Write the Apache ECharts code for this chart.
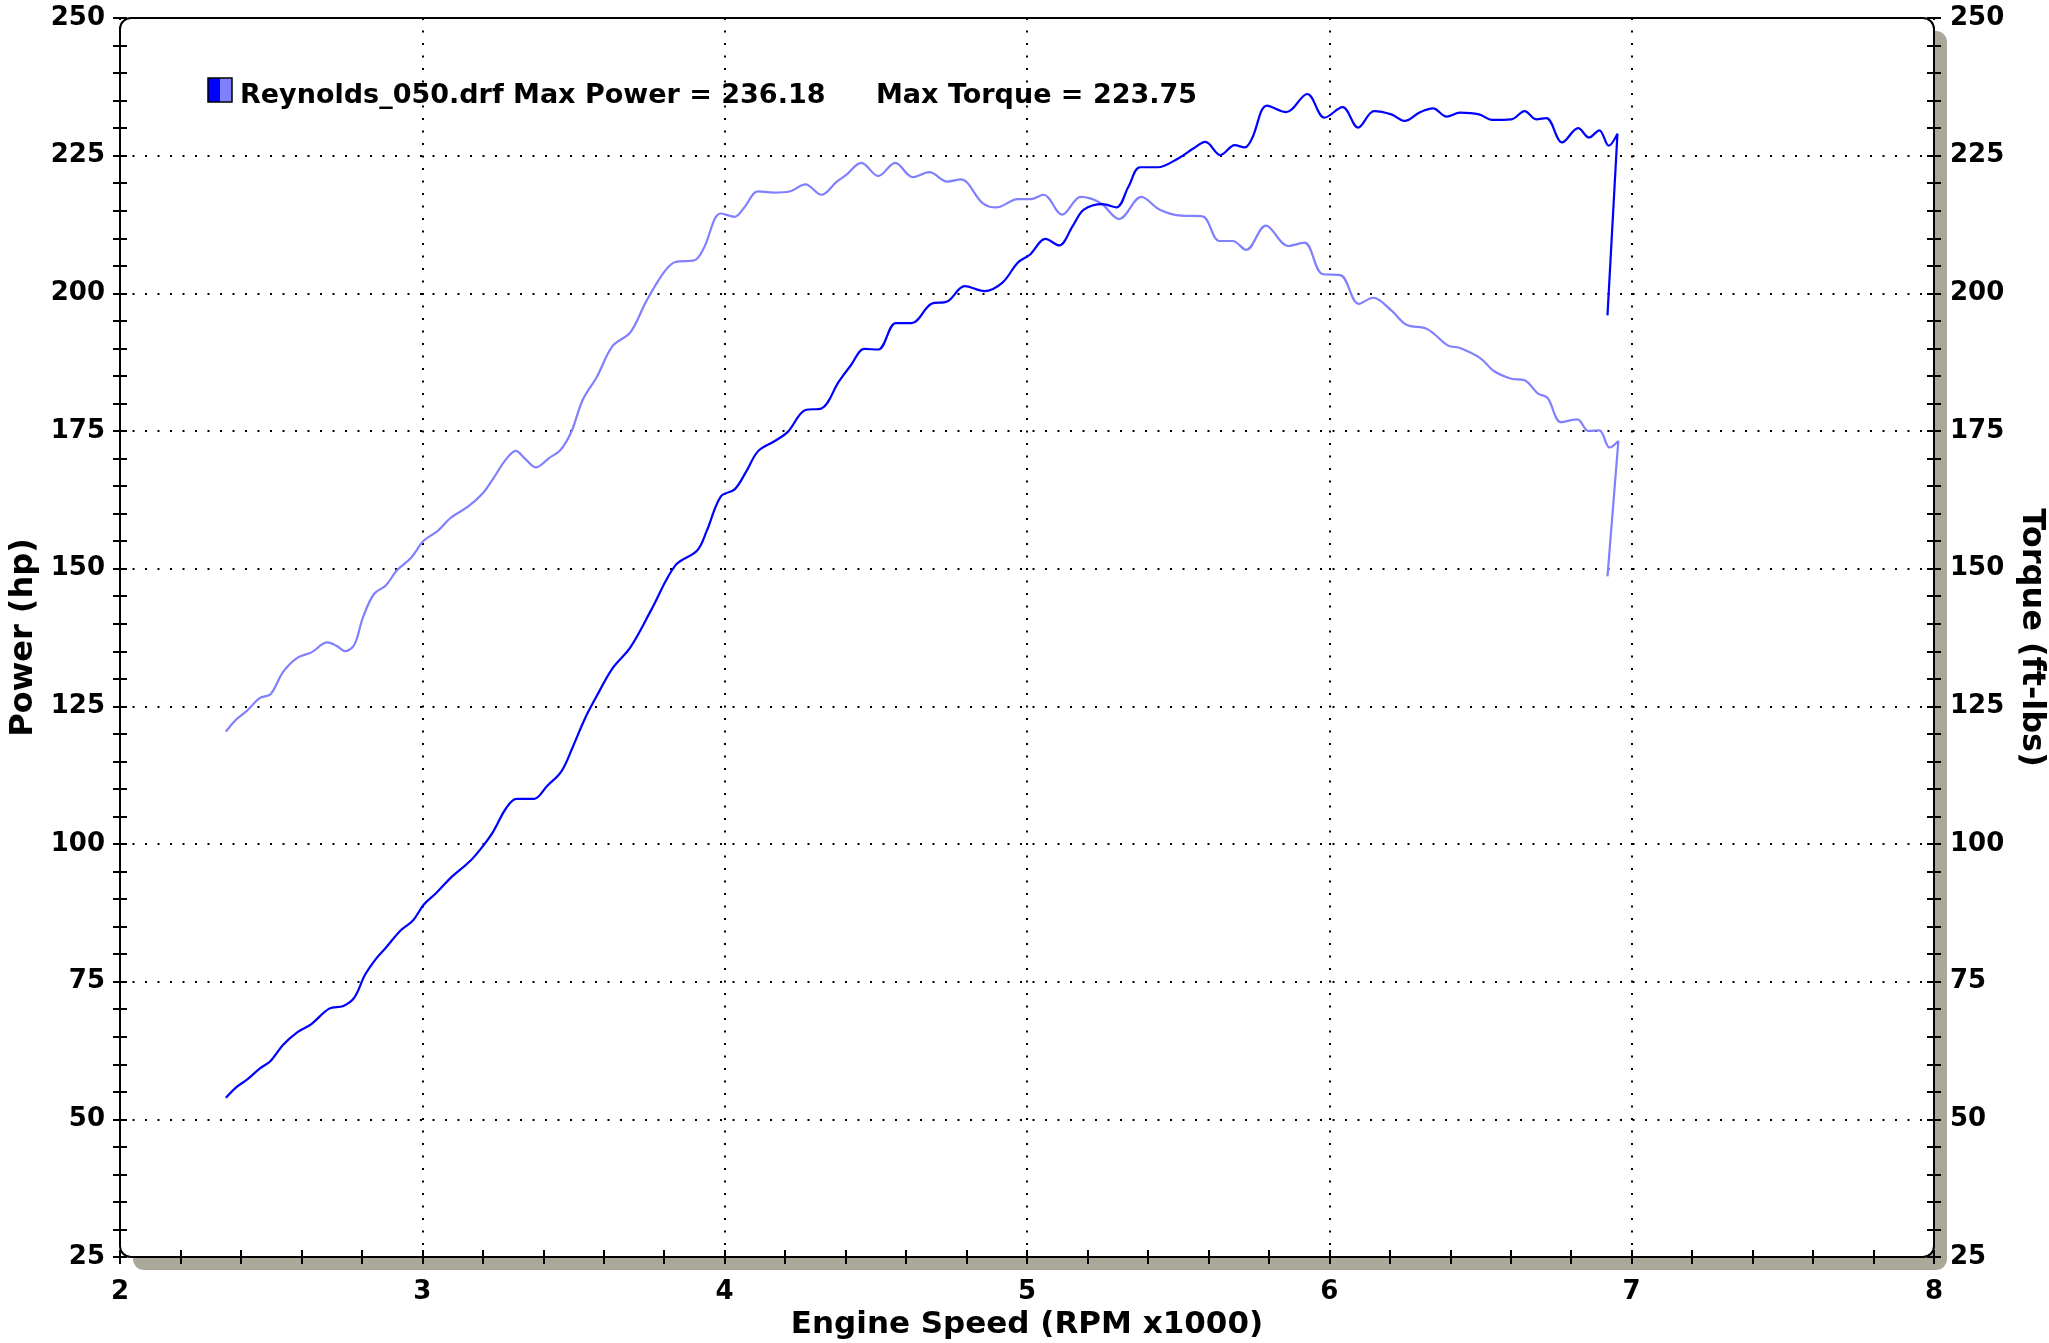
<!DOCTYPE html>
<html><head><meta charset="utf-8">
<script src="https://cdn.jsdelivr.net/npm/echarts@6/dist/echarts.min.js"></script>
<style>html,body{margin:0;padding:0;background:#fff;}#c{width:2049px;height:1343px;}</style>
</head><body><div id="c"></div>
<script>
// ---- data (RPM x1000) ----
const powerRpm = [2.35,2.386,2.42,2.462,2.498,2.539,2.586,2.633,2.692,2.739,2.775,2.81,2.846,2.88,2.928,2.969,3.005,3.046,3.093,3.158,3.2,3.235,3.276,3.311,3.37,3.412,3.46,3.499,3.538,3.577,3.629,3.688,3.759,3.837,3.909,3.941,3.987,4.033,4.072,4.11,4.163,4.208,4.267,4.32,4.378,4.417,4.462,4.508,4.566,4.618,4.684,4.736,4.794,4.859,4.918,4.97,5.009,5.061,5.106,5.152,5.188,5.25,5.296,5.335,5.374,5.432,5.5,5.55,5.59,5.64,5.687,5.72,5.744,5.794,5.857,5.927,5.984,6.044,6.095,6.148,6.205,6.249,6.3,6.343,6.388,6.432,6.495,6.539,6.602,6.646,6.684,6.718,6.77,6.823,6.859,6.893,6.924,6.953,6.92];
const powerHp = [53.9,55.9,57.2,59.2,60.6,63.5,65.8,67.3,70.1,70.6,72.1,76.2,79.1,81.2,84.3,86.1,89.0,91.1,93.8,96.9,99.6,102.3,106.4,108.2,108.2,110.5,113.2,117.8,122.8,126.9,131.9,135.7,142.7,150.6,153.3,156.9,163.1,164.4,167.7,171.3,173.1,174.8,178.8,179.1,184.0,186.9,189.9,189.8,194.6,194.6,198.1,198.5,201.3,200.4,201.9,205.6,207.0,209.9,208.7,212.3,215.2,216.2,215.6,219.3,222.9,222.9,224.5,226.3,227.5,225.1,226.9,226.5,228.1,234.1,232.9,236.2,231.9,233.8,230.1,233.1,232.5,231.3,232.9,233.6,232.1,232.8,232.5,231.5,231.6,233.1,231.6,231.8,227.4,230.0,228.3,229.6,226.8,229.0,196.0];
const torqueRpm = [2.35,2.386,2.42,2.462,2.498,2.539,2.586,2.633,2.686,2.716,2.745,2.775,2.804,2.84,2.88,2.916,2.963,3.005,3.052,3.093,3.152,3.2,3.235,3.276,3.309,3.341,3.376,3.417,3.459,3.494,3.53,3.577,3.629,3.688,3.74,3.8,3.837,3.9,3.93,3.987,4.033,4.065,4.11,4.163,4.215,4.267,4.32,4.371,4.4,4.452,4.508,4.564,4.622,4.677,4.736,4.781,4.853,4.898,4.97,5.012,5.055,5.116,5.178,5.243,5.305,5.378,5.439,5.51,5.58,5.636,5.68,5.725,5.79,5.864,5.918,5.977,6.037,6.097,6.145,6.205,6.255,6.324,6.393,6.43,6.5,6.544,6.602,6.646,6.69,6.722,6.766,6.82,6.857,6.893,6.927,6.956,6.92];
const torqueFtLb = [120.4,122.7,124.2,126.5,127.2,131.2,133.8,134.8,136.6,136.0,135.0,136.2,141.2,145.4,147.0,149.7,152.0,155.1,156.9,159.2,161.3,163.7,166.4,169.8,171.4,169.9,168.4,170.0,171.7,175.0,180.6,184.8,190.4,192.9,198.5,203.9,205.7,206.0,208.1,214.5,213.9,215.6,218.5,218.3,218.5,219.8,217.9,220.3,221.4,223.7,221.3,223.7,221.1,222.0,220.3,220.7,216.4,215.6,217.1,217.1,217.9,214.3,217.5,216.4,213.5,217.5,215.2,214.1,214.0,209.5,209.5,207.9,212.3,208.6,209.2,203.5,203.3,198.1,199.2,196.9,194.3,193.5,190.5,190.1,188.2,185.9,184.5,184.2,181.8,181.0,176.6,177.1,175.0,175.1,172.0,173.2,148.6];

// ---- axis ranges / texts ----
const xRange = [2, 8];
const yRange = [25, 250];
const xMajor = 1, xMinor = 0.2, yMajor = 25, yMinor = 5;
const legendName = 'Reynolds_050.drf Max Power = 236.18';
const legendTorque = 'Max Torque = 223.75';
const xAxisName = 'Engine Speed (RPM x1000)';
const yLeftName = 'Power (hp)';
const yRightName = 'Torque (ft-lbs)';

const FONT = '"DejaVu Sans", Verdana, sans-serif';
const lbl = {color:'#000', fontFamily:FONT, fontWeight:'bold', fontSize:26};
const nameStyle = {color:'#000', fontFamily:FONT, fontWeight:'bold', fontSize:32};
const xNameStyle = {color:'#000', fontFamily:FONT, fontWeight:'bold', fontSize:31};
const dotted = {color:'#000', width:2, type:[2,10.5]};
const tickStyle = {color:'#000', width:2};

function tickAxis(pos, inside, isX) {
  return {
    type:'value', position:pos,
    min: isX ? xRange[0] : yRange[0], max: isX ? xRange[1] : yRange[1],
    interval: isX ? xMinor : yMinor,
    axisLine:{show:false}, axisLabel:{show:false}, splitLine:{show:false},
    axisTick:{show:true, inside:inside, length:7, lineStyle:tickStyle},
    silent:true
  };
}

const chart = echarts.init(document.getElementById('c'), null, {renderer:'canvas'});
const grid = {left:120, right:115, top:18, bottom:86, containLabel:false, outerBoundsMode:'none'};

chart.setOption({
  animation:false,
  backgroundColor:'#fff',
  grid: grid,
  xAxis: [
    {type:'value', position:'bottom', min:xRange[0], max:xRange[1], interval:xMajor,
     axisLine:{show:false}, axisTick:{show:false},
     axisLabel:Object.assign({margin:22}, lbl),
     splitLine:{show:true, lineStyle:dotted},
     name:xAxisName, nameLocation:'middle', nameGap:52, nameTextStyle:xNameStyle},
    tickAxis('bottom', false, true),
    tickAxis('bottom', true, true)
  ],
  yAxis: [
    {type:'value', position:'left', min:yRange[0], max:yRange[1], interval:yMajor,
     axisLine:{show:false}, axisTick:{show:false},
     axisLabel:Object.assign({margin:15}, lbl),
     splitLine:{show:true, lineStyle:dotted},
     name:yLeftName, nameLocation:'middle', nameGap:79, nameTextStyle:nameStyle},
    {type:'value', position:'right', min:yRange[0], max:yRange[1], interval:yMajor,
     axisLine:{show:false}, axisTick:{show:false},
     axisLabel:Object.assign({margin:16}, lbl),
     splitLine:{show:false},
     name:yRightName, nameLocation:'middle', nameGap:79, nameRotate:-90, nameTextStyle:nameStyle},
    tickAxis('left', false, false),
    tickAxis('left', true, false),
    tickAxis('right', false, false),
    tickAxis('right', true, false)
  ],
  series: [
    {type:'line', name:'Power', xAxisIndex:0, yAxisIndex:0, showSymbol:false, smooth:0.35,
     lineStyle:{color:'#0000ff', width:2.2}, itemStyle:{color:'#0000ff'},
     data: powerRpm.map((r,i)=>[r, powerHp[i]]), z:3},
    {type:'line', name:'Torque', xAxisIndex:0, yAxisIndex:1, showSymbol:false, smooth:0.35,
     lineStyle:{color:'#8080ff', width:2.2}, itemStyle:{color:'#8080ff'},
     data: torqueRpm.map((r,i)=>[r, torqueFtLb[i]]), z:2}
  ]
});

// frame, shadow and legend derived from the grid
const tl = chart.convertToPixel({xAxisIndex:0, yAxisIndex:0}, [xRange[0], yRange[1]]);
const br = chart.convertToPixel({xAxisIndex:0, yAxisIndex:0}, [xRange[1], yRange[0]]);
const fx = tl[0], fy = tl[1], fw = br[0]-tl[0], fh = br[1]-tl[1];
const sh = 13;
chart.setOption({
  graphic: [
    {type:'rect', silent:true, z:-6, shape:{x:fx+sh, y:fy+sh, width:fw, height:fh, r:11}, style:{fill:'#aca899'}},
    {type:'rect', silent:true, z:-5, shape:{x:fx, y:fy, width:fw, height:fh, r:11}, style:{fill:'#ffffff'}},
    {type:'rect', silent:true, z:50, shape:{x:fx, y:fy, width:fw, height:fh, r:11}, style:{fill:null, stroke:'#000', lineWidth:2}},
    {type:'rect', silent:true, z:60, shape:{x:fx+88, y:fy+60, width:12, height:24}, style:{fill:'#0000ff'}},
    {type:'rect', silent:true, z:60, shape:{x:fx+100, y:fy+60, width:12, height:24}, style:{fill:'#8080ff'}},
    {type:'rect', silent:true, z:61, shape:{x:fx+88, y:fy+60, width:24, height:24}, style:{fill:null, stroke:'#000', lineWidth:1.5}},
    {type:'text', silent:true, z:60, x:fx+120, y:fy+78, style:{text:legendName, fill:'#000', font:'bold 27px ' + FONT, verticalAlign:'middle'}},
    {type:'text', silent:true, z:60, x:fx+756, y:fy+78, style:{text:legendTorque, fill:'#000', font:'bold 27px ' + FONT, verticalAlign:'middle'}}
  ]
});
</script>
</body></html>
